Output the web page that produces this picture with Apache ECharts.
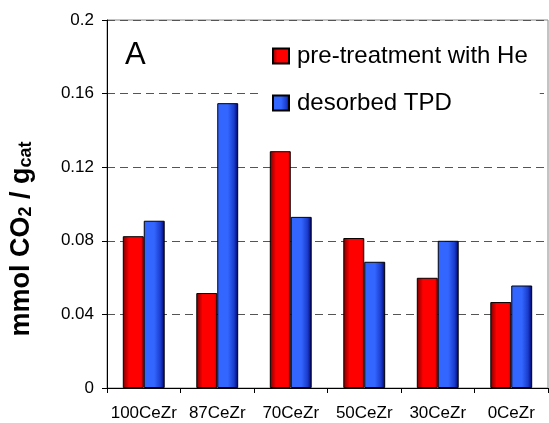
<!DOCTYPE html>
<html>
<head>
<meta charset="utf-8">
<script src="https://cdn.jsdelivr.net/npm/echarts@6/dist/echarts.min.js"></script>
<style>
html,body{margin:0;padding:0;background:#fff;}
#chart{width:549px;height:423px;}
</style>
</head>
<body>
<div id="chart"></div>
<script>
const categories = ['100CeZr', '87CeZr', '70CeZr', '50CeZr', '30CeZr', '0CeZr'];
const pretreatHe = [0.0825, 0.0516, 0.1287, 0.0815, 0.0599, 0.0467];
const desorbedTPD = [0.0909, 0.1548, 0.0930, 0.0686, 0.0800, 0.0557];
const seriesNames = ['pre-treatment with He', 'desorbed TPD'];
const yMin = 0, yMax = 0.2, yStep = 0.04;

const FONT = 'Liberation Sans, Arial, Helvetica, sans-serif';
const chart = echarts.init(document.getElementById('chart'), null, {renderer: 'canvas'});

const redGrad = new echarts.graphic.LinearGradient(0, 0, 1, 0, [
  {offset: 0, color: '#7a0000'},
  {offset: 0.3, color: '#ff0000'},
  {offset: 0.85, color: '#ff0000'},
  {offset: 1, color: '#c00000'}
]);
const blueGrad = new echarts.graphic.LinearGradient(0, 0, 1, 0, [
  {offset: 0, color: '#3366ff'},
  {offset: 0.5, color: '#3366ff'},
  {offset: 0.8, color: '#1a3ccc'},
  {offset: 1, color: '#000066'}
]);

chart.setOption({
  animation: false,
  backgroundColor: '#fff',
  grid: {
    left: 107, right: 1, top: 20, bottom: 35,
    show: true, borderColor: '#888888', borderWidth: 1, backgroundColor: 'transparent'
  },
  legend: {
    data: seriesNames,
    orient: 'vertical',
    left: 262, top: 34,
    icon: 'rect',
    itemWidth: 16, itemHeight: 15,
    itemGap: 23,
    padding: [10, 12, 10, 10],
    backgroundColor: '#ffffff',
    textStyle: {fontFamily: FONT, fontSize: 24, color: '#000', padding: [0, 0, 0, 3]}
  },
  xAxis: {
    type: 'category',
    data: categories,
    axisLine: {lineStyle: {color: '#000', width: 1}},
    axisTick: {show: true, length: 5, lineStyle: {color: '#000'}},
    axisLabel: {fontFamily: FONT, fontSize: 17, color: '#000', margin: 17, interval: 0, hideOverlap: false}
  },
  yAxis: {
    type: 'value',
    min: yMin, max: yMax, interval: yStep,
    axisLine: {show: true, lineStyle: {color: '#000', width: 1}},
    axisTick: {show: true, length: 5, lineStyle: {color: '#000'}},
    axisLabel: {fontFamily: FONT, fontSize: 17, color: '#000', margin: 13},
    splitLine: {show: true, lineStyle: {color: '#555', type: [8, 5], width: 1}}
  },
  series: [
    {
      name: seriesNames[0], type: 'bar', data: pretreatHe,
      barGap: '0%', barCategoryGap: '43%',
      itemStyle: {color: redGrad, borderColor: '#000', borderWidth: 1}
    },
    {
      name: seriesNames[1], type: 'bar', data: desorbedTPD,
      barGap: '0%', barCategoryGap: '43%',
      itemStyle: {color: blueGrad, borderColor: '#000', borderWidth: 1}
    }
  ],
  graphic: [
    {
      type: 'text', x: 125, y: 55,
      style: {text: 'A', font: '31px ' + FONT, fill: '#000', textVerticalAlign: 'middle'}
    },
    {
      type: 'text', x: 19, y: 239, rotation: Math.PI / 2,
      style: {
        text: '{a|mmol CO}{s|2}{a| / g}{s|cat}',
        textAlign: 'center', textVerticalAlign: 'middle',
        rich: {
          a: {fontFamily: FONT, fontWeight: 'bold', fontSize: 27, color: '#000', verticalAlign: 'bottom', lineHeight: 33},
          s: {fontFamily: FONT, fontWeight: 'bold', fontSize: 18, color: '#000', verticalAlign: 'bottom', lineHeight: 28}
        }
      }
    }
  ]
});
</script>
</body>
</html>
